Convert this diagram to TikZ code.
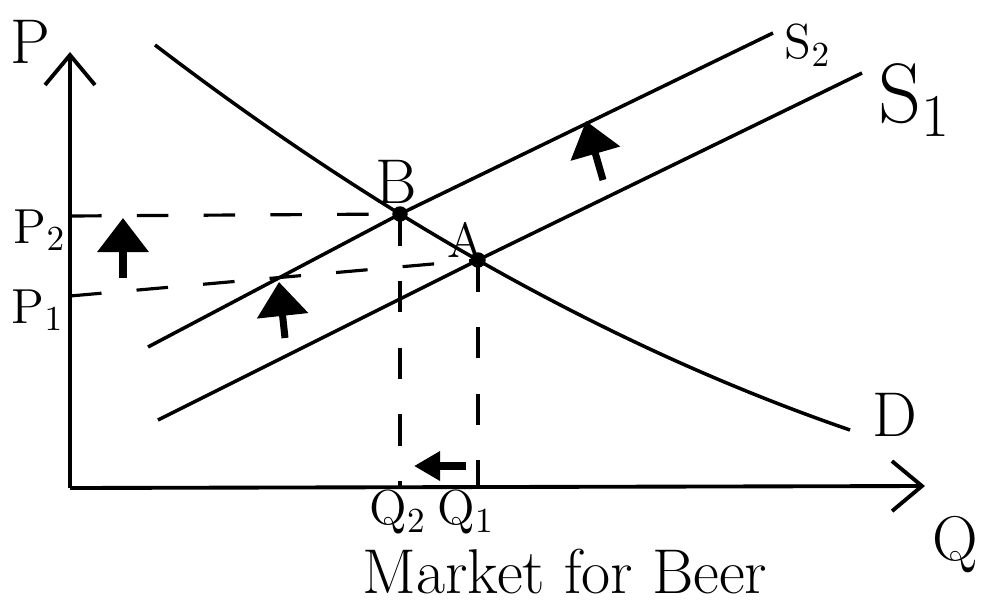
\documentclass[tikz,border=0pt]{standalone}
\usetikzlibrary{arrows.meta}
\begin{document}
\begin{tikzpicture}[
    x=0.1mm, y=-0.1mm,
    axis/.style={line width=1.1pt, -{Straight Barb[length=3mm, width=5mm, line width=1.1pt]}},
    curve/.style={line width=1pt},
    guide/.style={line width=0.9pt, dash pattern=on 9pt off 10pt},
    moveup/.style={line width=2pt, -{Triangle[length=3.4mm, width=5mm]}},
    lbl/.style={font=\fontsize{18}{20}\selectfont},
    small/.style={font=\fontsize{14}{16}\selectfont},
]
\useasboundingbox (0,0) rectangle (986,611);
% points
\coordinate (O) at (70,488);
\coordinate (B) at (400,214);
\coordinate (A) at (478,260);
\coordinate (P2) at (70,216);
\coordinate (P1) at (70,296);
\coordinate (Q2) at (400,488);
\coordinate (Q1) at (478,487);
% axes
\draw[axis] (O) -- (70,52);
\draw[axis] (O) -- (925,486);
% curves
\draw[curve] plot[domain=155:850, samples=60] (\x, {214+0.6159*(\x-400)-3.02*((\x-400)/100)^2});
\draw[curve] (148,347) -- (B) -- (773,33);
\draw[curve] (158,420) -- (A) -- (862,73);
% guide lines
\draw[guide] (P2) -- (B);
\draw[guide] (P1) -- (A);
\draw[guide] (B) -- (Q2);
\draw[guide] (A) -- (Q1);
\fill (B) circle (2.2pt);
\fill (A) circle (2.2pt);
% shift arrows
\draw[moveup] (123,278) -- (123,218);
\draw[moveup] (285,338) -- (279,282);
\draw[moveup] (603,180) -- (586,121);
\draw[moveup, -{Triangle[length=2.6mm, width=2.8mm]}] (466,466) -- (414,466);
% labels
\node[lbl] (pl) at (30,42) {P};
\node[lbl] (ql) at (955,545) {Q};
\node[small] (p2l) at (40,230) {P$_2$};
\node[small] (p1l) at (38,310) {P$_1$};
\node[lbl] (bl) at (396,182) {B};
\node[small] (al) at (466,240) {A};
\node[small] (q2l) at (398,512) {Q$_2$};
\node[small] (q1l) at (466,512) {Q$_1$};
\node[small] (s2l) at (808,45) {S$_2$};
\node[lbl, font=\fontsize{24}{26}\selectfont] (s1l) at (915,100) {S$_1$};
\node[lbl] (dl) at (895,415) {D};
\node[lbl] (title) at (565,572) {Market for Beer};
\end{tikzpicture}
\end{document}
